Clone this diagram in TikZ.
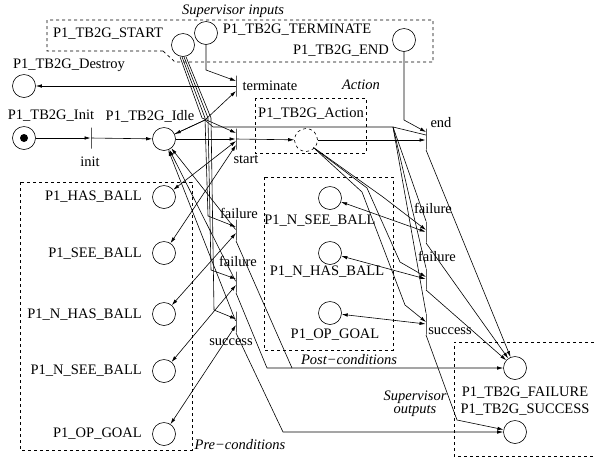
\documentclass[tikz,border=0pt]{standalone}
\usepackage{fontspec}
\setmainfont{Liberation Serif}
\usetikzlibrary{arrows.meta,calc}
\begin{document}
\begin{tikzpicture}[x=1pt,y=-1pt,
  place/.style={circle, draw, minimum size=23pt, inner sep=0pt, line width=0.6pt},
  tbar/.style={draw, minimum width=0pt, minimum height=21pt, inner sep=0pt, line width=0.9pt},
  lbl/.style={inner sep=1pt, font=\fontsize{14.5}{16}\selectfont},
  glbl/.style={inner sep=1pt, font=\fontsize{14.5}{16}\selectfont\itshape},
  grp/.style={dashed, line width=0.7pt},
  arc/.style={-{Latex[length=6pt,width=3.5pt]}, line width=0.6pt},
  rarc/.style={{Latex[length=6pt,width=3.5pt]}-{Latex[length=6pt,width=3.5pt]}, line width=0.6pt},
  plain/.style={line width=0.6pt}]
\useasboundingbox (0,0) rectangle (594,459);

% group boxes
\draw[grp] (163,51) -- (47,51) -- (47,20) -- (433,20) -- (433,62) -- (175,62) -- cycle;
\node[glbl] (gIn) at (233,11) {Supervisor inputs};
\draw[grp] (255,98) rectangle (366,153);
\node[glbl] (gAct) at (361,85) {Action};
\draw[grp] (20,182) rectangle (192,450);
\node[glbl] (gPre) at (240,445) {Pre−conditions};
\draw[grp] (264,177) rectangle (393,350);
\node[glbl] (gPost) at (349,360) {Post−conditions};
\draw[grp] (600,342) -- (454,342) -- (454,456) -- (600,456);
\node[glbl, align=center] (gOut) at (415,404) {Supervisor\\[-3pt]outputs};

% places
\node[place] (pStart) at (183,45) {};
\node[place] (pTerm) at (206,33) {};
\node[place] (pEnd) at (404,40) {};
\node[place] (pDestroy) at (24,86) {};
\node[place] (pInit) at (24,138) {};
\fill (pInit.center) circle (4);
\node[place] (pIdle) at (164,139) {};
\node[place, dashed] (pAction) at (306,140) {};
\node[place] (pHas) at (164,197) {};
\node[place] (pSee) at (164,253) {};
\node[place] (pNHas) at (164,314) {};
\node[place] (pNSee) at (164,371) {};
\node[place] (pOp) at (164,434) {};
\node[place] (qNSee) at (330,198) {};
\node[place] (qNHas) at (330,253) {};
\node[place] (qOp) at (330,313) {};
\node[place] (pFail) at (515,368) {};
\node[place] (pSucc) at (515,432) {};

% place labels
\node[lbl] (lStart) at (108,34) {P1\_TB2G\_START};
\node[lbl] (lTerm) at (297,30) {P1\_TB2G\_TERMINATE};
\node[lbl] (lEnd) at (341,51) {P1\_TB2G\_END};
\node[lbl] (lDestroy) at (69,65) {P1\_TB2G\_Destroy};
\node[lbl] (lInit) at (51,116) {P1\_TB2G\_Init};
\node[lbl] (lIdle) at (150,116) {P1\_TB2G\_Idle};
\node[lbl] (lAction) at (311,114) {P1\_TB2G\_Action};
\node[lbl, anchor=east] (lHas) at (143,197) {P1\_HAS\_BALL};
\node[lbl, anchor=east] (lSee) at (143,254) {P1\_SEE\_BALL};
\node[lbl, anchor=east] (lNHas) at (143,315) {P1\_N\_HAS\_BALL};
\node[lbl, anchor=east] (lNSee) at (143,371) {P1\_N\_SEE\_BALL};
\node[lbl, anchor=east] (lOp) at (143,434) {P1\_OP\_GOAL};
\node[lbl] (mNSee) at (320,221) {P1\_N\_SEE\_BALL};
\node[lbl] (mNHas) at (327,272) {P1\_N\_HAS\_BALL};
\node[lbl] (mOp) at (335,335) {P1\_OP\_GOAL};
\node[lbl] (lFail) at (525,393) {P1\_TB2G\_FAILURE};
\node[lbl] (lSucc) at (525,410) {P1\_TB2G\_SUCCESS};

% transitions
\node[tbar] (tInit) at (91,138) {};
\node[tbar] (tTerm) at (236,86) {};
\node[tbar] (tStart) at (236,139) {};
\node[tbar] (tEnd) at (426,139) {};
\node[tbar] (tF1) at (236,230) {};
\node[tbar] (tF2) at (236,282) {};
\node[tbar] (tS) at (236,322) {};
\node[tbar] (tPF1) at (426,232) {};
\node[tbar] (tPF2) at (426,279) {};
\node[tbar] (tPS) at (426,324) {};

% transition labels
\node[lbl] (kInit) at (90,162) {init};
\node[lbl] (kTerm) at (270,86) {terminate};
\node[lbl] (kStart) at (246,159) {start};
\node[lbl] (kEnd) at (441,123) {end};
\node[lbl] (kF1) at (239,213) {failure};
\node[lbl] (kF2) at (238,261) {failure};
\node[lbl] (kS) at (231,342) {success};
\node[lbl] (kPF1) at (433,208) {failure};
\node[lbl] (kPF2) at (437,256) {failure};
\node[lbl] (kPS) at (450,331) {success};

% junctions
\coordinate (jA) at (205,120);
\coordinate (jB) at (393,127);

% main flow
\draw[arc] (pInit) -- (tInit);
\draw[arc] (tInit) -- (pIdle);
\draw[arc] (pIdle) -- (tStart);
\draw[arc] (tStart) -- (pAction);
\draw[arc] (pAction.east) -- (tEnd.west |- pAction.east);
\draw[arc] (tTerm) -- (pDestroy);
\draw[arc] (pTerm.south) -- (206,70) -- ($(tTerm)+(0,-5)$);
\draw[arc] (pEnd.south) -- (404,120) -- ($(tEnd)+(0,-7)$);
\draw[arc] (pIdle) -- (jA) -- ($(tTerm)+(0,5)$);

% START bundle
\draw[arc] ($(pStart.south)+(-3,0)$) -- (202,118) -- ($(tStart)+(0,-6)$);
\draw[arc] ($(pStart.south)+(-1,0)$) -- (205,118) -- (208,216) -- ($(tF1)+(0,-3)$);
\draw[arc] ($(pStart.south)+(1,0)$) -- (208,118) -- (211,270) -- ($(tF2)+(0,-3)$);
\draw[arc] ($(pStart.south)+(3,0)$) -- (211,118) -- (214,310) -- ($(tS)+(0,-3)$);

% return to Idle
\draw[arc] ($(tEnd)+(0,-4)$) -- (jB) -- (213,127) -- (jA) -- (pIdle);
\draw[plain] (tPF1.north) -- (jB);
\draw[plain] (tPF2.north) -- (jB);
\draw[plain] (tPS.north) -- (jB);
\draw[arc] (tF1) -- (pIdle);
\draw[arc] (tF2) -- (pIdle);
\draw[arc] (tS) -- (pIdle);

% read arcs
\draw[rarc] (pHas) -- ($(tStart)+(0,2)$);
\draw[rarc] (pSee) -- ($(tStart)+(0,6)$);
\draw[rarc] (pNHas) -- ($(tF1)+(0,3)$);
\draw[rarc] (pNSee) -- ($(tF2)+(0,3)$);
\draw[rarc] (pOp) -- ($(tS)+(0,3)$);
\draw[rarc] (qNSee) -- (tPF1);
\draw[rarc] (qNHas) -- (tPF2);
\draw[rarc] (qOp) -- (tPS);

% Action bundle
\draw[arc] ($(pAction.south east)+(-1,-1)$) -- (383,197) -- ($(tPF1)+(0,-2)$);
\draw[arc] ($(pAction.south east)+(0,0)$) -- (367,188) -- (400,262) -- ($(tPF2)+(0,-2)$);
\draw[arc] ($(pAction.south east)+(1,1)$) -- (362,192) -- (405,305) -- ($(tPS)+(0,-2)$);

% outputs
\draw[arc] (tF1.south) -- (292,368) -- (pFail);
\draw[plain] (tF2.south) -- (267,368) -- (292,368);
\draw[arc] (tS.south) -- (283,432) -- (pSucc);
\draw[arc] (tEnd.south) -- (pFail);
\draw[arc] (tPF1.south) -- (pFail);
\draw[arc] (tPF2.south) -- (pFail);
\draw[arc] (tPS.south) -- (457,420) -- (pSucc);
\end{tikzpicture}
\end{document}
